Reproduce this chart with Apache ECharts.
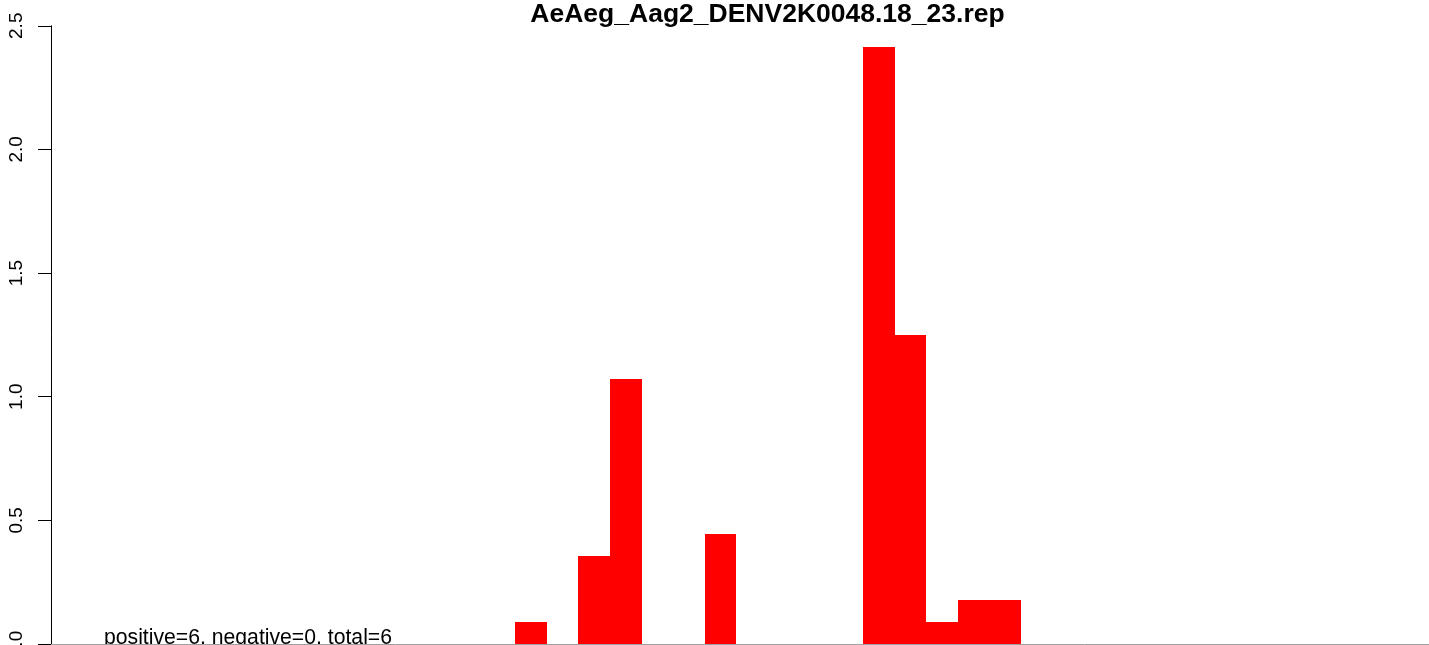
<!DOCTYPE html>
<html>
<head>
<meta charset="utf-8">
<script src="https://cdn.jsdelivr.net/npm/echarts@6/dist/echarts.min.js"></script>
<style>
html,body{margin:0;padding:0;background:#fff;}
#chart{width:1429px;height:645px;}
</style>
</head>
<body>
<div id="chart"></div>
<script>
// ---- data ----
const chartTitle = "AeAeg_Aag2_DENV2K0048.18_23.rep";
const summaryText = "positive=6, negative=0, total=6";
const binIndex = [14, 16, 17, 20, 25, 26, 27, 28, 29];
const binValue = [0.089, 0.356, 1.072, 0.445, 2.414, 1.25, 0.089, 0.178, 0.178];
const yTicks = [0, 0.5, 1.0, 1.5, 2.0, 2.5];

const font = "'Liberation Sans', Arial, Helvetica, sans-serif";
const chart = echarts.init(document.getElementById('chart'), null, {renderer: 'canvas'});

const seriesData = binIndex.map((b, i) => [b, binValue[i]]);

chart.setOption({
  animation: false,
  backgroundColor: '#ffffff',
  grid: {left: 51, right: 0, top: 25.75, bottom: 1, containLabel: false, outerBoundsMode: 'none'},
  xAxis: {
    type: 'value',
    min: -0.672,
    max: 42.9,
    axisLine: {show: true, onZero: true, lineStyle: {color: '#a0a0a0', width: 1}},
    axisTick: {show: false},
    axisLabel: {show: false},
    splitLine: {show: false}
  },
  yAxis: {
    type: 'value',
    min: yTicks[0],
    max: yTicks[yTicks.length - 1],
    interval: 0.5,
    axisLine: {show: true, onZero: false, lineStyle: {color: '#000', width: 1}},
    axisTick: {show: true, length: 13, lineStyle: {color: '#000', width: 1}},
    axisLabel: {
      show: true, rotate: 90, margin: 25,
      fontFamily: font, fontSize: 19, color: '#000',
      formatter: v => v.toFixed(1)
    },
    splitLine: {show: false}
  },
  series: [{
    type: 'custom',
    data: seriesData,
    renderItem: function (params, api) {
      const x = api.value(0), v = api.value(1);
      const p0 = api.coord([x, 0]);
      const p1 = api.coord([x + 1, v]);
      const x0 = Math.round(p0[0]), x1 = Math.round(p1[0]);
      const yb = Math.round(p0[1]), yt = Math.round(p1[1]);
      return {
        type: 'rect',
        shape: {x: x0, y: yt, width: x1 - x0, height: yb - yt},
        style: {fill: '#ff0000', stroke: null}
      };
    }
  }],
  graphic: [
    {
      type: 'text', x: 767.5, y: 1,
      style: {text: chartTitle, textAlign: 'center', textVerticalAlign: 'top',
        font: 'bold 26.5px ' + font, fill: '#000'}
    },
    {
      type: 'text', x: 104, y: 628,
      style: {text: summaryText, textAlign: 'left', textVerticalAlign: 'top',
        font: '21.2px ' + font, fill: '#000'}
    }
  ]
});
</script>
</body>
</html>
